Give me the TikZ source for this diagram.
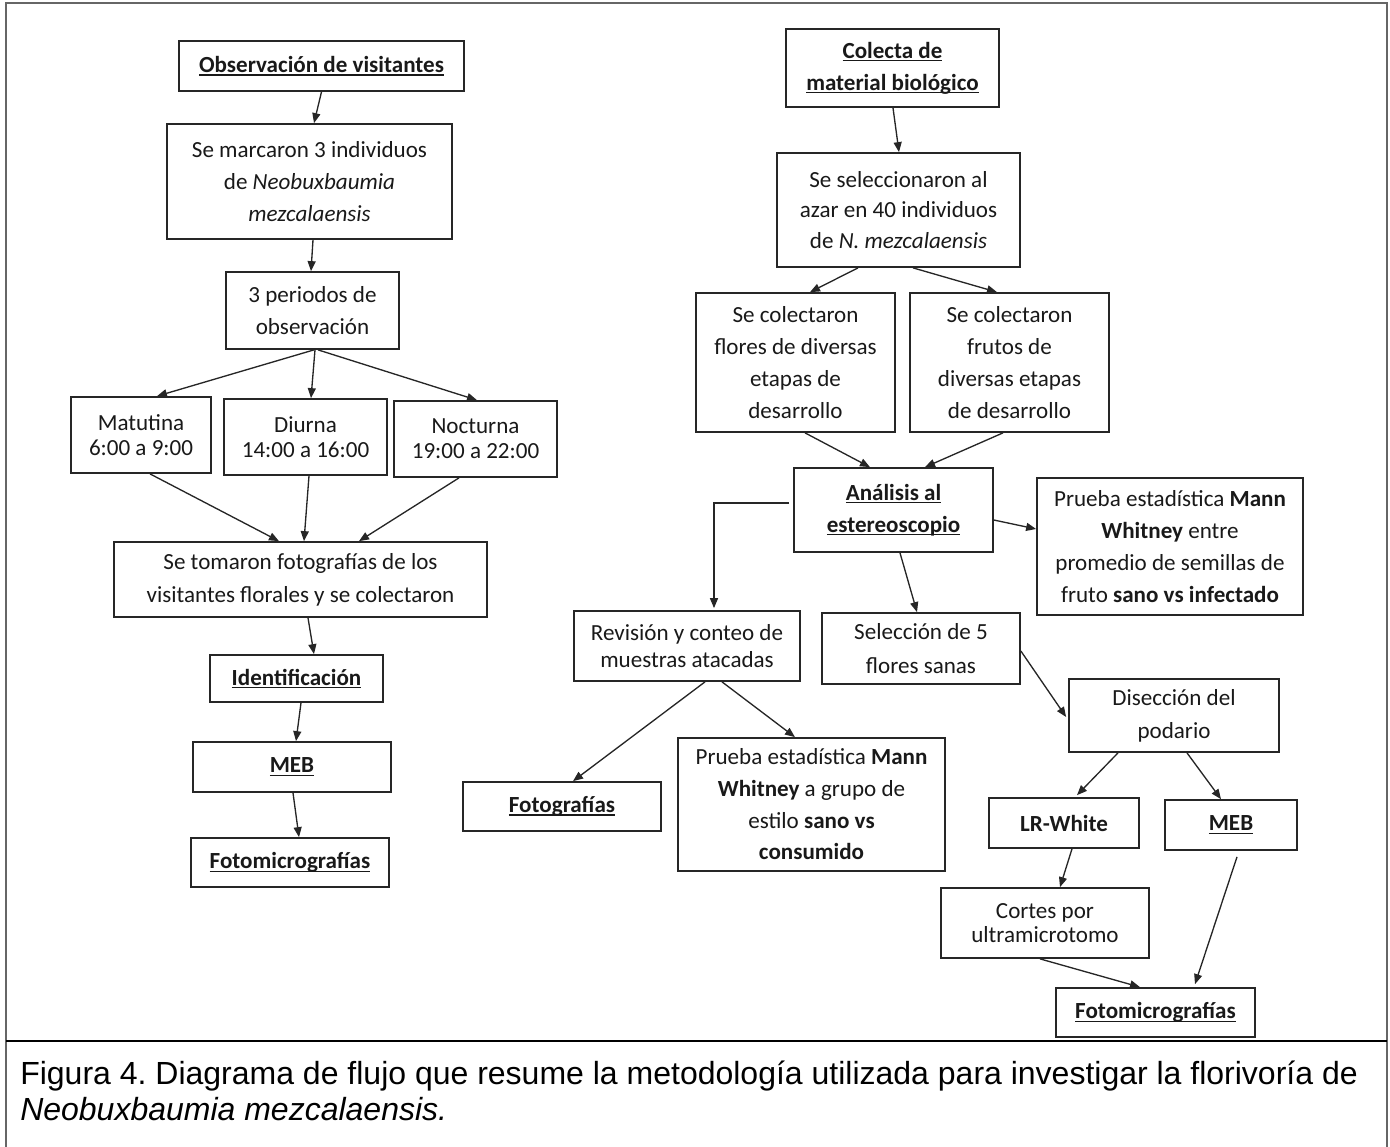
\documentclass[tikz,border=0pt]{standalone}
\usepackage{fontspec}
\setmainfont{Carlito}
\newfontfamily\capfont{Liberation Sans}
\usetikzlibrary{arrows.meta,calc}
\newcommand\myul[1]{\setbox0\hbox{#1}\rlap{\rule[-2.3pt]{\wd0}{0.9pt}}\box0}
\tikzset{
  box/.style={draw=black!85, line width=1.3pt, align=center, inner sep=0pt,
    text=black!90, font=\fontsize{17.3}{#1}\selectfont},
  box/.default=24,
  sz/.style 2 args={minimum width=#1*0.75pt, minimum height=#2*0.75pt},
  arr/.style={-{Triangle[length=7.5pt,width=6pt]}, line width=1pt, draw=black!85},
  captext/.style={anchor=base west, inner sep=0pt, font=\capfont\fontsize{24}{28}\selectfont}
}
\begin{document}
\frenchspacing
\begin{tikzpicture}[x=0.75pt,y=-0.75pt]
\useasboundingbox (0,0) rectangle (1390,1147);
% frame
\draw[black!60, line width=1.5pt] (6,1147) -- (6,3) -- (1387,3) -- (1387,1147);
\draw[black, line width=1.2pt] (6,1041) -- (1387,1041);

% ---------- left column ----------
\node[box, sz={285}{50}] (obs) at (321.5,66) {\textbf{\myul{Observación de visitantes}}};
\node[box, sz={285}{115}] (sem) at (309.5,181.5) {Se marcaron 3 individuos\\de \textit{Neobuxbaumia}\\\textit{mezcalaensis}};
\node[box, sz={173}{77}] (per) at (312.5,310.5) {3 periodos de\\observación};
\node[box=18.75, sz={140}{76}] (mat) at (141,435) {Matutina\\6:00 a 9:00};
\node[box=18.75, sz={163}{76}] (diu) at (305.5,437) {Diurna\\14:00 a 16:00};
\node[box=18.75, sz={163}{76}] (noc) at (475.5,439) {Nocturna\\19:00 a 22:00};
\node[box=24.75, sz={373}{75}] (tom) at (300.5,579.5) {Se tomaron fotografías de los\\visitantes florales y se colectaron};
\node[box, sz={173}{47}] (ide) at (296.5,678.5) {\textbf{\myul{Identificación}}};
\node[box, sz={198}{50}] (meba) at (292,767) {\textbf{\myul{MEB}}};
\node[box, sz={198}{49}] (fota) at (290,862.5) {\textbf{\myul{Fotomicrografías}}};

\draw[arr] (obs.south) -- ($(sem.north)+(4.5,0)$);
\draw[arr] ($(sem.south)+(3.5,0)$) -- ($(per.north)+(-1.5,0)$);
\draw[arr] ($(per.south)+(1.5,0)$) -- ($(mat.north)+(16,0)$);
\draw[arr] ($(per.south)+(2.5,0)$) -- ($(diu.north)+(5.5,0)$);
\draw[arr] ($(per.south)+(5.5,0)$) -- ($(noc.north)+(1.5,0)$);
\draw[arr] ($(mat.south)+(9,0)$) -- ($(tom.north)+(-21.5,0)$);
\draw[arr] ($(diu.south)+(3.5,0)$) -- ($(tom.north)+(3.5,0)$);
\draw[arr] ($(noc.south)+(-16.5,0)$) -- ($(tom.north)+(58.5,0)$);
\draw[arr] ($(tom.south)+(7.5,0)$) -- ($(ide.north)+(17.5,0)$);
\draw[arr] ($(ide.south)+(4.5,0)$) -- ($(meba.north)+(4,0)$);
\draw[arr] ($(meba.south)+(1,0)$) -- ($(fota.north)+(9,0)$);

% ---------- right part ----------
\node[box, sz={213}{78}] (col) at (892.5,68) {\textbf{\myul{Colecta de}}\\\textbf{\myul{material biológico}}};
\node[box=23, sz={243}{114}] (sel) at (898.5,210) {Se seleccionaron al\\azar en 40 individuos\\de \textit{N. mezcalaensis}};
\node[box, sz={199}{139}] (flo) at (795.5,362.5) {Se colectaron\\flores de diversas\\etapas de\\desarrollo};
\node[box, sz={199}{139}] (fru) at (1009.5,362.5) {Se colectaron\\frutos de\\diversas etapas\\de desarrollo};
\node[box, sz={199}{84}] (ana) at (893.5,510) {\textbf{\myul{Análisis al}}\\\textbf{\myul{estereoscopio}}};
\node[box=23.8, sz={266}{137}] (pra) at (1170,546.5) {Prueba estadística \textbf{Mann}\\\textbf{Whitney} entre\\promedio de semillas de\\fruto \textbf{sano vs infectado}};
\node[box=20, sz={226}{70}] (rev) at (687,646) {Revisión y conteo de\\muestras atacadas};
\node[box=25.5, sz={198}{71}] (sli) at (921,648.5) {Selección de 5\\flores sanas};
\node[box=24.75, sz={210}{73}] (dis) at (1174,715.5) {Disección del\\podario};
\node[box, sz={198}{49}] (fotg) at (562,806.5) {\textbf{\myul{Fotografías}}};
\node[box=23.75, sz={267}{133}] (prb) at (811.5,804.5) {Prueba estadística \textbf{Mann}\\\textbf{Whitney} a grupo de\\estilo \textbf{sano vs}\\\textbf{consumido}};
\node[box, sz={150}{50}] (lrw) at (1064,823) {\textbf{LR-White}};
\node[box, sz={132}{50}] (mebb) at (1231,825) {\textbf{\myul{MEB}}};
\node[box=18, sz={208}{70}] (cor) at (1045,923) {Cortes por\\ultramicrotomo};
\node[box, sz={199}{49}] (fotb) at (1155.5,1012.5) {\textbf{\myul{Fotomicrografías}}};

\draw[arr] ($(col.south)+(0.5,0)$) -- ($(sel.north)+(0.5,0)$);
\draw[arr] ($(sel.south)+(-40.5,0)$) -- ($(flo.north)+(14.5,0)$);
\draw[arr] ($(sel.south)+(14.5,0)$) -- ($(fru.north)+(-12.5,0)$);
\draw[arr] ($(flo.south)+(9.5,0)$) -- ($(ana.north)+(-23.5,0)$);
\draw[arr] ($(fru.south)+(-6.5,0)$) -- ($(ana.north)+(31.5,0)$);
\draw[arr] ($(ana.east)+(0,10)$) -- ($(pra.west)+(0,-17.5)$);
\draw[arr] ($(ana.west)+(-4,-7)$) -| ($(rev.north)+(27,-2)$);
\draw[arr] ($(ana.south)+(6.5,0)$) -- ($(sli.north)+(-4,0)$);
\draw[arr] ($(rev.south)+(18,0)$) -- ($(fotg.north)+(11,0)$);
\draw[arr] ($(rev.south)+(35,0)$) -- ($(prb.north)+(-16.5,0)$);
\draw[arr] ($(sli.east)+(0,2.5)$) -- ($(dis.west)+(-2,1.5)$);
\draw[arr] ($(dis.south)+(-56,0)$) -- ($(lrw.north)+(13,-2)$);
\draw[arr] ($(dis.south)+(13,0)$) -- ($(mebb.north)+(-10,0)$);
\draw[arr] ($(lrw.south)+(8,0)$) -- ($(cor.north)+(15,0)$);
\draw[arr] ($(cor.south)+(-5,0)$) -- ($(fotb.north)+(-15.5,0)$);
\draw[arr] ($(mebb.south)+(6,6)$) -- ($(fotb.north)+(39.5,-3)$);

% ---------- caption ----------
\node[captext] (capa) at (20,1084) {Figura 4. Diagrama de flujo que resume la metodología utilizada para investigar la florivoría de};
\node[captext] (capb) at (20,1120) {\itshape Neobuxbaumia mezcalaensis.};
\end{tikzpicture}
\end{document}
